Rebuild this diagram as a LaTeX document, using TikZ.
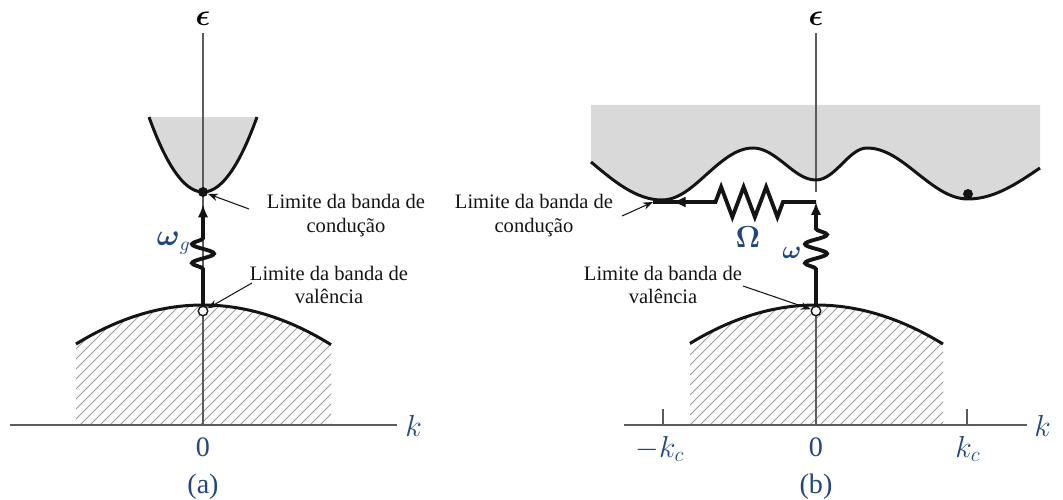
\documentclass[tikz,border=0pt]{standalone}
\usepackage{amsmath}
\usepackage{fontspec}
\setmainfont{Liberation Serif}
\usetikzlibrary{arrows.meta,decorations.pathmorphing,decorations.markings}
\definecolor{BandInk}{HTML}{141414}
\definecolor{AxisGrey}{HTML}{5C5C5C}
\definecolor{HatchGrey}{HTML}{9C9C9C}
\definecolor{FillGrey}{HTML}{D9D9D9}
\definecolor{LabelBlue}{HTML}{23467C}

\begin{document}
\begin{tikzpicture}[x=0.02cm, y=-0.02cm, font=\fontsize{11.7}{13.6}\selectfont,
  axis/.style={AxisGrey, line width=1.1pt},
  band/.style={BandInk, line width=1.7pt},
  hatch/.style={HatchGrey, line width=0.5pt},
  pointer/.style={BandInk, line width=0.6pt, -{Stealth[length=2mm, width=1.5mm]}},
  note/.style={align=center, inner sep=0pt, text=BandInk},
  sym/.style={text=LabelBlue, inner sep=0pt, font=\fontsize{16}{16}\selectfont},
  dot/.style={circle, fill=BandInk, inner sep=0pt, minimum size=2mm},
  hole/.style={circle, draw=BandInk, fill=white, line width=0.8pt, inner sep=0pt, minimum size=1.9mm},
  photon/.style={BandInk, line width=2.2pt, -{Latex[length=2.6mm, width=2.1mm]}, decorate,
    decoration={snake, amplitude=2.2mm, segment length=3.8mm, pre length=7.3mm, post length=5.2mm}},
  phonon/.style={BandInk, line width=2.2pt, decorate,
    decoration={zigzag, amplitude=3mm, segment length=4.5mm, pre length=6.6mm, post length=12.2mm}},
  midtip/.style={decorate, decoration={markings,
    mark=at position 0.88 with {\arrow[BandInk]{Latex[length=2.6mm, width=2.1mm]}}}}]
  \useasboundingbox (0,0) rectangle (1063,500);
  % (a) direct gap
  \fill[FillGrey] plot[domain=149:257, samples=50] (\x, {192-2.57*((\x-203)/10)^2}) -- cycle;
  \begin{scope}
    \clip (76,425) -- plot[domain=76:331, samples=50] (\x, {305+0.242*((\x-203)/10)^2}) -- (331,425) -- cycle;
    \foreach \s in {-60,-50,...,340}
      \draw[hatch] (\s,425) -- ++(140,-140);
  \end{scope}
  \coordinate (oA) at (203,425);
  \draw[axis] (10,425) -- (397,425);
  \draw[axis] (203,33) -- (oA);
  \draw[band] plot[domain=149:257, samples=50] (\x, {192-2.57*((\x-203)/10)^2});
  \draw[band] plot[domain=76:331, samples=50] (\x, {305+0.242*((\x-203)/10)^2});
  \node[dot] (cbA) at (203,192) {};
  \node[hole] (vbA) at (203,311) {};
  \draw[photon] (vbA.north) -- ([yshift=-1.4mm]cbA.south);
  \node[sym, anchor=east] (wgA) at (191,243) {$\boldsymbol{\omega}_g$};
  \node[inner sep=0pt, font=\fontsize{16}{16}\selectfont] (epsA) at (203,19) {$\boldsymbol{\epsilon}$};
  \node[sym, anchor=west, font=\fontsize{18}{18}\selectfont] (kA) at (405,426) {$k$};
  \node[sym] (zeroA) at (203,447) {0};
  \node[sym] (capA) at (203,487) {(a)};
  \node[note] (cbnoteA) at (346,216) {Limite da banda de\\condução};
  \node[note] (vbnoteA) at (329,285) {Limite da banda de\\valência};
  \coordinate (cbtailA) at (249,209);
  \coordinate (vbtailA) at (252,283);
  \draw[pointer] (cbtailA) -- (cbA);
  \draw[pointer] (vbtailA) -- (vbA);
  % (b) indirect gap
  \fill[FillGrey] (591,105) -- (591,162) sin (662,200) cos (707,174) sin (753,148) cos (785,164)
    sin (816,180) cos (842,164) sin (867,148) cos (918,174) sin (968,199) cos (1040,168)
    -- (1040,105) -- cycle;
  \begin{scope}
    \clip (690,425) -- plot[domain=690:943, samples=50] (\x, {305+0.242*((\x-816)/10)^2}) -- (943,425) -- cycle;
    \foreach \s in {560,570,...,960}
      \draw[hatch] (\s,425) -- ++(140,-140);
  \end{scope}
  \coordinate (oB) at (816,425);
  \draw[axis] (624,425) -- (1027,425);
  \draw[axis] (816,33) -- (816,192);
  \draw[axis] (816,311) -- (oB);
  \draw[axis] (663,409) -- (663,425);
  \draw[axis] (967,409) -- (967,425);
  \draw[band] (591,162) sin (662,200) cos (707,174) sin (753,148) cos (785,164)
    sin (816,180) cos (842,164) sin (867,148) cos (918,174) sin (968,199) cos (1040,168);
  \draw[band] plot[domain=690:943, samples=50] (\x, {305+0.242*((\x-816)/10)^2});
  \node[dot] (cbminB) at (968,194) {};
  \node[hole] (vbB) at (816,311) {};
  \coordinate (turnB) at (816,202);
  \coordinate (cbB) at (653,202);
  \draw[photon] (vbB.north) -- (turnB);
  \draw[phonon] (turnB) -- (cbB);
  \path[midtip] (turnB) -- (cbB);
  \node[sym, font=\fontsize{17}{17}\selectfont] (bigW) at (748,237) {$\boldsymbol{\Omega}$};
  \node[sym, font=\fontsize{14}{14}\selectfont] (smallw) at (792,253) {$\boldsymbol{\omega}$};
  \node[inner sep=0pt, font=\fontsize{16}{16}\selectfont] (epsB) at (816,19) {$\boldsymbol{\epsilon}$};
  \node[sym, anchor=west, font=\fontsize{18}{18}\selectfont] (kB) at (1034,426) {$k$};
  \node[sym, font=\fontsize{17}{17}\selectfont] (mkcB) at (660,449) {$-k_c$};
  \node[sym] (zeroB) at (816,447) {0};
  \node[sym, font=\fontsize{17}{17}\selectfont] (kcB) at (968,449) {$k_c$};
  \node[sym] (capB) at (816,487) {(b)};
  \node[note] (cbnoteB) at (534,216) {Limite da banda de\\condução};
  \node[note] (vbnoteB) at (663,285) {Limite da banda de\\valência};
  \coordinate (cbtailB) at (622,216);
  \coordinate (vbtailB) at (743,286);
  \draw[pointer] (cbtailB) -- (cbB);
  \draw[pointer] (vbtailB) -- (vbB);
\end{tikzpicture}
\end{document}
